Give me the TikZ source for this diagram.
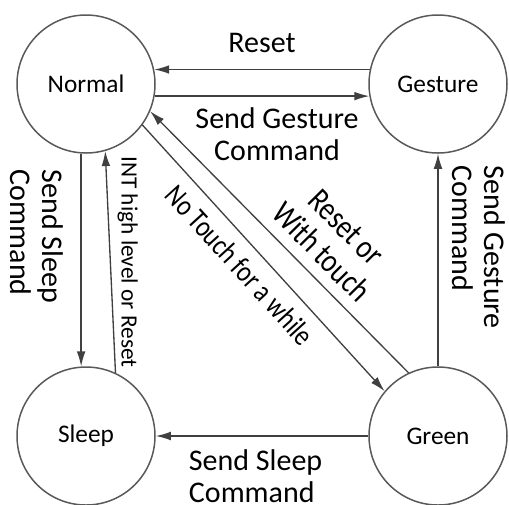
\documentclass[tikz,border=0pt]{standalone}
\usepackage{fontspec}
\setmainfont{Carlito}
\newfontfamily\narrowfont[FakeStretch=0.82]{Carlito}
\usetikzlibrary{automata, positioning, arrows.meta}
\tikzset{
    ->,  % every edge is directed
    >={Latex[length=4.5pt, width=2.6pt]},
    node distance=105.6pt, % distance between the state centres
    every state/.style={draw=black!65, line width=0.45pt, minimum size=41.4pt, inner sep=0pt, font=\fontsize{7.6}{9}\selectfont}, % look of each 'state' node
    every edge/.style={draw, black!75, line width=0.4pt},
    edgelabel/.style={font=\fontsize{9}{9.6}\selectfont, text=black},
    slantlabel/.style={font=\narrowfont\fontsize{#1}{10.5}\selectfont, text=black},
    slantlabel/.default=9,
    }

\begin{document}
\begin{tikzpicture}[x=0.3pt, y=-0.3pt]
\useasboundingbox (0,0) rectangle (509,504);
\node[state] (normal) at (86,84) {Normal};
\node[state, right of=normal] (gesture) {Gesture};
\node[state, below of=normal] (sleep) {Sleep};
\node[state, right of=sleep] (green) {Green};

\path (gesture.168) edge node[edgelabel, above=1.5pt] {Reset} (normal.12)
(normal.-10) edge node[edgelabel, below=0pt, align=center, pos=0.57] {Send Gesture\\Command} (gesture.190)
(normal.-94) edge node[edgelabel, rotate=-90, anchor=north, inner sep=5pt, align=left, pos=0.39] {Send Sleep\\Command} (sleep.94)
(sleep.65) edge node[edgelabel, font=\fontsize{7}{8}\selectfont, rotate=-90, anchor=south, inner sep=2pt] {INT high level or Reset} (normal.-74)
(normal.-36) edge node[slantlabel, sloped, below, pos=0.47] {No Touch for a while} (green.140)
(green.115) edge node[slantlabel=10, sloped, above, align=center, pos=0.4] {Reset or\\With touch} (normal.-23)
(green.north) edge node[edgelabel, rotate=-90, anchor=south, inner sep=4pt, align=left, pos=0.56] {Send Gesture\\Command} (gesture.south)
(green.west) edge node[edgelabel, below=0.5pt, align=left, pos=0.53] {Send Sleep\\Command} (sleep.east);

\end{tikzpicture}
\end{document}
